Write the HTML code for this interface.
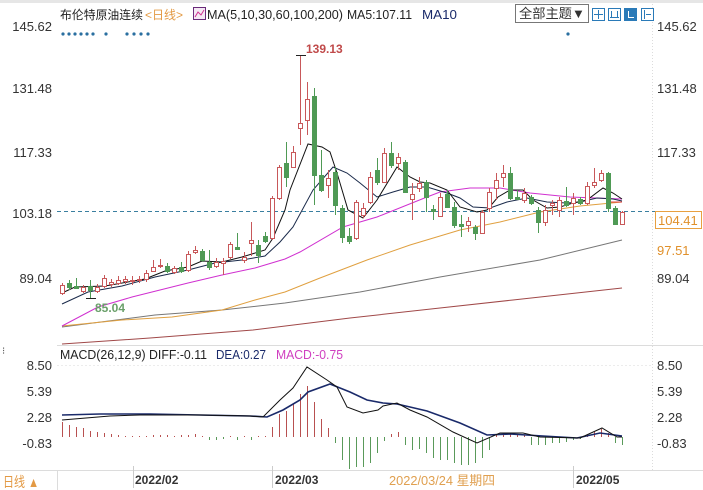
<!DOCTYPE html>
<html><head><meta charset="utf-8"><style>
html,body{margin:0;padding:0;background:#fff;}
svg{display:block;font-family:"Liberation Sans","Noto Sans CJK SC",sans-serif;}
</style></head><body>
<svg width="703" height="490" viewBox="0 0 703 490" xmlns="http://www.w3.org/2000/svg">
<rect x="0" y="0" width="703" height="490" fill="#fff"/>
<rect x="0" y="0" width="703" height="3" fill="#e6e6e6"/>
<g stroke="#dcdcdc" stroke-width="1" shape-rendering="crispEdges">
<line x1="57" y1="345.5" x2="703" y2="345.5"/>
<line x1="0" y1="470.5" x2="703" y2="470.5"/>
<line x1="57.5" y1="470" x2="57.5" y2="490"/>
<line x1="652.5" y1="4" x2="652.5" y2="470" stroke-dasharray="1,2"/>
<line x1="57" y1="365.5" x2="652" y2="365.5" stroke="#ececec" stroke-dasharray="2,2"/>
<line x1="133.5" y1="466" x2="133.5" y2="488" stroke="#ccc"/>
<line x1="272.5" y1="466" x2="272.5" y2="488" stroke="#ccc"/>
<line x1="573.5" y1="466" x2="573.5" y2="488" stroke="#ccc"/>
</g>
<text x="60" y="19" font-size="12" fill="#222" textLength="83" lengthAdjust="spacingAndGlyphs">布伦特原油连续</text>
<text x="145" y="19" font-size="12" fill="#e39a45" textLength="38" lengthAdjust="spacingAndGlyphs">&lt;日线&gt;</text>
<rect x="193.5" y="7.5" width="12" height="12" fill="#f4e8f4" stroke="#6a2a7a"/>
<polyline points="195,17 198,12 201,15 204,10" fill="none" stroke="#d03090" stroke-width="1"/>
<text x="207" y="19" font-size="13" fill="#222" textLength="136" lengthAdjust="spacingAndGlyphs">MA(5,10,30,60,100,200)</text>
<text x="347" y="19" font-size="13" fill="#222" textLength="65" lengthAdjust="spacingAndGlyphs">MA5:107.11</text>
<text x="422" y="19" font-size="13" fill="#1a2a6a" textLength="35" lengthAdjust="spacingAndGlyphs">MA10</text>
<rect x="515.5" y="4.5" width="73" height="18" fill="#fff" stroke="#777"/>
<text x="519" y="18" font-size="13" fill="#333" textLength="66" lengthAdjust="spacingAndGlyphs">全部主题▼</text>
<g stroke="#2a7ab8" fill="#fff" shape-rendering="crispEdges">
<rect x="592.5" y="8.5" width="12" height="12"/>
<rect x="608.5" y="8.5" width="12" height="12"/>
<rect x="624.5" y="8.5" width="12" height="12" fill="#2a7ab8"/>
<rect x="641.5" y="8.5" width="12" height="12"/>
</g>
<g stroke="#2a7ab8" fill="none" stroke-width="1" shape-rendering="crispEdges">
<path d="M598.5 10V19M594 14.5H603M611.5 11V18M617.5 11V18M610 17.5H619M644.5 10V19M646 14.5H651"/>
<path stroke="#fff" d="M628.5 11V18M628 17.5H634"/>
</g>
<g fill="#2a6fa0">
<circle cx="63" cy="34" r="1.6"/><circle cx="69" cy="34" r="1.6"/><circle cx="75" cy="34" r="1.6"/><circle cx="81" cy="34" r="1.6"/><circle cx="87" cy="34" r="1.6"/><circle cx="93" cy="34" r="1.6"/>
<circle cx="106" cy="34" r="1.6"/>
<circle cx="127" cy="34" r="1.6"/><circle cx="134" cy="34" r="1.6"/><circle cx="141" cy="34" r="1.6"/><circle cx="148" cy="34" r="1.6"/>
<circle cx="568" cy="34" r="1.6"/>
</g>
<g font-size="13" fill="#333">
<text x="52" y="31" text-anchor="end">145.62</text>
<text x="52" y="93" text-anchor="end">131.48</text>
<text x="52" y="157" text-anchor="end">117.33</text>
<text x="52" y="218" text-anchor="end">103.18</text>
<text x="52" y="283" text-anchor="end">89.04</text>
<text x="657" y="31">145.62</text>
<text x="657" y="93">131.48</text>
<text x="657" y="157">117.33</text>
<text x="657" y="283">89.04</text>
</g>
<rect x="655.5" y="211.5" width="46" height="17" fill="#fff" stroke="#e8a040"/>
<text x="658" y="225" font-size="13" fill="#e0902a">104.41</text>
<text x="657" y="255" font-size="13" fill="#e0902a">97.51</text>
<line x1="57" y1="211.5" x2="655" y2="211.5" stroke="#3a7fa0" stroke-dasharray="4,3" shape-rendering="crispEdges"/>
<g fill="none" stroke-width="1">
<polyline stroke="#a04848" points="62,344 150,338 253,330 350,318 440,308 513,300 622,288"/>
<polyline stroke="#777" points="62,327 155,315 222,310 285,303 360,292 440,277 540,260 622,240"/>
<polyline stroke="#e0a040" points="62,326 122,320 172,317 222,310 255,300 285,292 320,278 367,260 410,245 460,230 500,222 540,212 580,206 622,202"/>
<polyline stroke="#d030d0" points="62,326 98,307 132,297 188,283 222,275 255,268 285,259 300,252 343,227 377,217 427,197 440,192 470,188 500,188 530,193 570,197 622,199"/>
<polyline stroke="#1a2a4a" points="62,304 88,292 122,286 155,277 188,270 215,263 242,260 265,256 280,242 293,227 313,190 333,167 347,173 360,183 377,197 393,192 410,187 427,187 447,193 460,198 473,207 490,208 507,202 527,198 547,202 567,203 580,202 597,198 613,199 622,201"/>
<polyline stroke="#111" points="62,293 75,287 105,286 145,279 165,271 188,267 202,261 222,262 242,257 265,250 273,238 285,210 290,190 308,144 322,147 330,152 337,173 348,210 363,218 377,200 397,167 410,177 420,182 430,183 447,190 460,207 477,212 487,210 498,197 510,190 523,190 533,200 547,208 560,207 573,203 587,200 603,188 613,193 622,199"/>
<polyline stroke="#e04040" points="606,202 622,202"/>
</g>
<g stroke="#c8585a" shape-rendering="crispEdges">
<path fill="none" d="M62.5 283V295M83.5 285V293M97.5 284V293M104.5 275V288M111.5 279V287M118.5 276V285M125.5 276V284M132.5 276V285M139.5 276V283M146.5 270V282M153.5 260V272M160.5 259V268M174.5 266V274M188.5 251V272M195.5 246V254M216.5 258V268M223.5 258V275M230.5 242V259M244.5 252V263M251.5 222V256M272.5 196V240M279.5 165V200M293.5 146V168M300.5 55V145M307.5 82V135M328.5 170V198M356.5 200V240M363.5 203V218M370.5 172V204M384.5 148V183M398.5 153V170M412.5 183V220M419.5 177V192M440.5 193V217M468.5 217V232M482.5 210V234M489.5 188V212M496.5 173V200M503.5 165V187M524.5 188V203M545.5 205V226M552.5 200V215M559.5 197V217M573.5 193V215M587.5 182V205M594.5 168V188M601.5 170V182M622.5 211V225"/>
<path fill="#fff" d="M60.5 285.5h4v8h-4zM81.5 287.5h4v4h-4zM95.5 287.5h4v4h-4zM102.5 278.5h4v8h-4zM109.5 282.5h4v2h-4zM116.5 280.5h4v3h-4zM123.5 279.5h4v2h-4zM130.5 280.5h4v1h-4zM137.5 279.5h4v1h-4zM144.5 273.5h4v6h-4zM151.5 267.5h4v4h-4zM158.5 265.5h4v1h-4zM172.5 268.5h4v4h-4zM186.5 254.5h4v16h-4zM193.5 250.5h4v2h-4zM214.5 262.5h4v4h-4zM221.5 261.5h4v2h-4zM228.5 244.5h4v13h-4zM242.5 257.5h4v3h-4zM249.5 240.5h4v3h-4zM270.5 198.5h4v40h-4zM277.5 167.5h4v31h-4zM291.5 152.5h4v15h-4zM298.5 123.5h4v5h-4zM305.5 99.5h4v21h-4zM326.5 178.5h4v7h-4zM354.5 202.5h4v36h-4zM361.5 208.5h4v7h-4zM368.5 177.5h4v25h-4zM382.5 153.5h4v29h-4zM396.5 157.5h4v6h-4zM410.5 194.5h4v5h-4zM417.5 183.5h4v5h-4zM438.5 197.5h4v19h-4zM466.5 221.5h4v4h-4zM480.5 212.5h4v21h-4zM487.5 192.5h4v16h-4zM494.5 180.5h4v8h-4zM501.5 173.5h4v4h-4zM522.5 193.5h4v7h-4zM543.5 210.5h4v12h-4zM550.5 203.5h4v2h-4zM557.5 200.5h4v10h-4zM571.5 198.5h4v5h-4zM585.5 186.5h4v17h-4zM592.5 182.5h4v3h-4zM599.5 173.5h4v7h-4zM620.5 212.5h4v12h-4z"/>
</g>
<g stroke="#4f9a55" shape-rendering="crispEdges">
<path fill="none" d="M69.5 280V290M76.5 278V288M90.5 280V298M167.5 263V273M181.5 262V273M202.5 249V262M209.5 250V270M237.5 233V250M258.5 240V263M265.5 232V243M286.5 142V187M314.5 88V205M321.5 150V192M335.5 167V215M342.5 205V243M349.5 228V244M377.5 158V185M391.5 142V168M405.5 160V193M426.5 180V212M433.5 205V220M447.5 190V208M454.5 202V228M461.5 215V237M475.5 225V240M510.5 167V200M517.5 190V200M531.5 195V205M538.5 207V233M566.5 187V207M580.5 197V205M608.5 172V212M615.5 206V225"/>
<path fill="#4f9a55" d="M67.5 283.5h4v4h-4zM74.5 286.5h4v2h-4zM88.5 286.5h4v4h-4zM165.5 266.5h4v5h-4zM179.5 267.5h4v4h-4zM200.5 251.5h4v9h-4zM207.5 262.5h4v5h-4zM235.5 247.5h4v2h-4zM256.5 245.5h4v10h-4zM263.5 236.5h4v5h-4zM284.5 163.5h4v14h-4zM312.5 96.5h4v79h-4zM319.5 175.5h4v15h-4zM333.5 172.5h4v33h-4zM340.5 208.5h4v29h-4zM347.5 236.5h4v5h-4zM375.5 170.5h4v12h-4zM389.5 153.5h4v12h-4zM403.5 162.5h4v30h-4zM424.5 182.5h4v15h-4zM431.5 209.5h4v2h-4zM445.5 194.5h4v13h-4zM452.5 207.5h4v18h-4zM459.5 224.5h4v2h-4zM473.5 227.5h4v6h-4zM508.5 173.5h4v25h-4zM515.5 197.5h4v2h-4zM529.5 197.5h4v6h-4zM536.5 210.5h4v12h-4zM564.5 201.5h4v4h-4zM578.5 199.5h4v4h-4zM606.5 173.5h4v35h-4zM613.5 208.5h4v16h-4z"/>
</g>
<path stroke="#222" shape-rendering="crispEdges" d="M296 55.5H306M86 298.5H96"/>
<text x="306" y="53" font-size="12" font-weight="bold" fill="#c04a4a">139.13</text>
<text x="95" y="312" font-size="12" font-weight="bold" fill="#6aa06a">85.04</text>
<text x="2" y="354" font-size="10" fill="#555">⁝</text>
<text x="60" y="359" font-size="13" fill="#222" textLength="147" lengthAdjust="spacingAndGlyphs">MACD(26,12,9) DIFF:-0.11</text>
<text x="216" y="359" font-size="13" fill="#1a2a6a" textLength="50" lengthAdjust="spacingAndGlyphs">DEA:0.27</text>
<text x="276" y="359" font-size="13" fill="#d040c0" textLength="67" lengthAdjust="spacingAndGlyphs">MACD:-0.75</text>
<g font-size="13" fill="#333">
<text x="52" y="370" text-anchor="end">8.50</text>
<text x="52" y="396" text-anchor="end">5.39</text>
<text x="52" y="422" text-anchor="end">2.28</text>
<text x="52" y="448" text-anchor="end">-0.83</text>
<text x="657" y="370">8.50</text>
<text x="657" y="396">5.39</text>
<text x="657" y="422">2.28</text>
<text x="657" y="448">-0.83</text>
</g>
<path stroke="#b85050" fill="none" shape-rendering="crispEdges" d="M62.5 437V422M69.5 437V425M76.5 437V427M83.5 437V428M90.5 437V431M97.5 437V432M104.5 437V433M111.5 437V434M118.5 437V435M125.5 437V436M132.5 437V436M139.5 437V436M146.5 437V436M153.5 437V435M160.5 437V435M167.5 437V435M174.5 437V436M181.5 437V435M188.5 437V435M195.5 437V434M202.5 437V436M230.5 437V436M244.5 437V436M258.5 437V436M265.5 437V436M272.5 437V427M279.5 437V414M286.5 437V411M293.5 437V404M300.5 437V394M307.5 437V386M314.5 437V402M321.5 437V419M328.5 437V428M391.5 437V434M398.5 437V432M496.5 437V435M503.5 437V433M510.5 437V434M517.5 437V435M524.5 437V435M587.5 437V435M594.5 437V432M601.5 437V429M608.5 437V433"/>
<path stroke="#5a9a5a" fill="none" shape-rendering="crispEdges" d="M209.5 437V440M216.5 437V440M223.5 437V439M237.5 437V440M251.5 437V440M335.5 437V443M342.5 437V460M349.5 437V469M356.5 437V467M363.5 437V467M370.5 437V463M377.5 437V453M384.5 437V441M405.5 437V445M412.5 437V450M419.5 437V449M426.5 437V453M433.5 437V458M440.5 437V460M447.5 437V460M454.5 437V463M461.5 437V465M468.5 437V465M475.5 437V463M482.5 437V458M489.5 437V450M531.5 437V445M538.5 437V445M545.5 437V445M552.5 437V443M559.5 437V443M566.5 437V442M573.5 437V440M580.5 437V439M615.5 437V443M622.5 437V445"/>
<polyline fill="none" stroke="#1a2a6a" stroke-width="1.6" points="62,415 100,414 150,414 200,415 250,416 267,417 283,410 300,400 308,392 330,384 350,392 367,400 383,403 397,404 410,407 427,411 460,423 487,435 510,434 543,436 577,438 600,433 622,436"/>
<polyline fill="none" stroke="#111" stroke-width="1" points="62,420 110,416 140,415 200,415 250,416 263,417 280,400 293,388 307,367 327,380 337,387 347,407 363,413 378,410 383,406 397,403 410,410 427,417 453,432 477,443 500,433 523,433 540,437 580,438 602,428 617,437 622,437"/>
<text x="3" y="487" font-size="14" fill="#e39a45" textLength="36" lengthAdjust="spacingAndGlyphs">日线 ▲</text>
<g font-size="12" font-weight="bold" fill="#333">
<text x="135" y="484">2022/02</text>
<text x="275" y="484">2022/03</text>
<text x="576" y="484">2022/05</text>
</g>
<text x="389" y="485" font-size="13" fill="#e0a050" textLength="106" lengthAdjust="spacingAndGlyphs">2022/03/24 星期四</text>
</svg>
</body></html>
